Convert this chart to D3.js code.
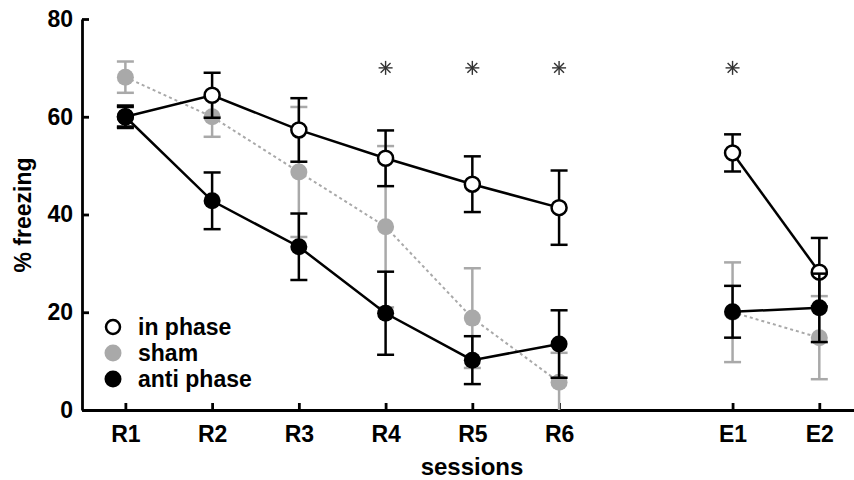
<!DOCTYPE html>
<html>
<head>
<meta charset="utf-8">
<script src="https://cdn.jsdelivr.net/npm/d3@7"></script>
<style>
  body { margin: 0; background: #fff; }
  text { font-family: "Liberation Sans", Arial, Helvetica, sans-serif; font-weight: bold; }
</style>
</head>
<body>
<div id="chart"></div>
<script>
// sessions (R = retrieval, E = extinction), gap between R6 and E1
const sessions = ["R1", "R2", "R3", "R4", "R5", "R6", "E1", "E2"];
const yTicks = [0, 20, 40, 60, 80];

// mean % freezing and s.e.m. per session
const inPhase    = [60.0, 64.4, 57.3, 51.5, 46.2, 41.4, 52.6, 28.2];
const inPhaseErr = [ 2.3,  4.6,  6.5,  5.7,  5.7,  7.6,  3.8,  7.0];
const sham       = [68.1, 60.0, 48.7, 37.5, 18.8,  5.7, 20.0, 14.8];
const shamErr    = [ 3.2,  4.1, 13.3, 16.5, 10.2,  6.0, 10.2,  8.5];
const antiPhase  = [60.0, 42.8, 33.4, 19.8, 10.2, 13.5, 20.1, 20.9];
const antiErr    = [ 2.0,  5.8,  6.8,  8.5,  4.9,  6.9,  5.3,  7.0];

// sessions marked significant
const sigSessions = ["R4", "R5", "R6", "E1"];
const sigLevel = 70;

const W = 854, H = 480;
const svg = d3.select("#chart").append("svg")
    .attr("width", W)
    .attr("height", H);

// slot index along x: leave one empty slot between R and E sessions
const slot = function(i){ return i < 6 ? i : i + 1; };

const x = d3.scaleLinear().domain([-0.5, 8.4]).range([82, 854]);
const y = d3.scaleLinear().domain([0, 80]).range([410, 19]);

// axes
const xAxis = svg.append("g")
    .attr("transform", "translate(0," + y(0) + ")")
    .call(d3.axisBottom(x)
      .tickValues(sessions.map(function(d, i){ return slot(i); }))
      .tickFormat(function(d){ return sessions[d < 6 ? d : d - 1]; })
      .tickSizeInner(-7)
      .tickSizeOuter(0)
      .tickPadding(16));

const yAxis = svg.append("g")
    .attr("transform", "translate(" + x(-0.5) + ",0)")
    .call(d3.axisLeft(y)
      .tickValues(yTicks)
      .tickSizeInner(-7)
      .tickSizeOuter(0)
      .tickPadding(9));

[xAxis, yAxis].forEach(function(a){
  a.selectAll("path, line").attr("stroke", "#000").attr("stroke-width", 2.8);
  a.selectAll("text").attr("fill", "#000").style("font-size", "23px")
    .style("font-family", "'Liberation Sans', Arial, sans-serif").style("font-weight", "bold");
});

svg.append("text")
    .attr("x", 472)
    .attr("y", 475)
    .attr("text-anchor", "middle")
    .style("font-size", "24px")
    .text("sessions");

svg.append("text")
    .attr("transform", "translate(31,215) rotate(-90)")
    .attr("text-anchor", "middle")
    .style("font-size", "23px")
    .text("% freezing");

// series, drawn back to front
const series = [
  {name: "sham",       values: sham,      err: shamErr,    color: "#a9a9a9", fill: "#a9a9a9", dash: "3,3", lw: 2},
  {name: "in phase",   values: inPhase,   err: inPhaseErr, color: "#000",    fill: "#fff",    dash: null,  lw: 2.5},
  {name: "anti phase", values: antiPhase, err: antiErr,    color: "#000",    fill: "#000",    dash: null,  lw: 2.5}
];
const legendOrder = ["in phase", "sham", "anti phase"];

const line = d3.line()
    .x(function(d){ return x(d.s); })
    .y(function(d){ return y(d.v); });

series.forEach(function(s){
  const pts = s.values.map(function(v, i){ return {s: slot(i), v: v, e: s.err[i]}; });
  const g = svg.append("g").attr("class", "series");

  // error bars
  const eb = g.selectAll(".eb").data(pts).enter().append("g").attr("class", "eb")
      .attr("stroke", s.color).attr("stroke-width", 2.5);
  eb.append("line")
      .attr("x1", function(d){ return x(d.s); })
      .attr("x2", function(d){ return x(d.s); })
      .attr("y1", function(d){ return y(Math.max(0, d.v - d.e)); })
      .attr("y2", function(d){ return y(d.v + d.e); });
  eb.append("line")
      .attr("x1", function(d){ return x(d.s) - 8.5; })
      .attr("x2", function(d){ return x(d.s) + 8.5; })
      .attr("y1", function(d){ return y(d.v + d.e); })
      .attr("y2", function(d){ return y(d.v + d.e); });
  eb.filter(function(d){ return d.v - d.e > 0; }).append("line")
      .attr("x1", function(d){ return x(d.s) - 8.5; })
      .attr("x2", function(d){ return x(d.s) + 8.5; })
      .attr("y1", function(d){ return y(d.v - d.e); })
      .attr("y2", function(d){ return y(d.v - d.e); });

  // connecting lines: retrieval block and extinction block
  [pts.slice(0, 6), pts.slice(6)].forEach(function(seg){
    g.append("path")
        .attr("d", line(seg))
        .attr("fill", "none")
        .attr("stroke", s.color)
        .attr("stroke-width", s.lw)
        .attr("stroke-dasharray", s.dash);
  });

  // markers
  g.selectAll(".dot").data(pts).enter().append("circle")
      .attr("class", "dot")
      .attr("cx", function(d){ return x(d.s); })
      .attr("cy", function(d){ return y(d.v); })
      .attr("r", s.fill === "#fff" ? 7.5 : 8.5)
      .attr("fill", s.fill)
      .attr("stroke", s.fill === "#fff" ? "#000" : "none")
      .attr("stroke-width", 2.5);
});

// significance asterisks
const star = svg.append("g").attr("stroke", "#333").attr("stroke-width", 1.4);
sigSessions.forEach(function(name){
  const cx = x(slot(sessions.indexOf(name))), cy = y(sigLevel), r = 7;
  for (let k = 0; k < 4; k++) {
    const a = k * Math.PI / 4;
    star.append("line")
        .attr("x1", cx - r * Math.cos(a)).attr("y1", cy - r * Math.sin(a))
        .attr("x2", cx + r * Math.cos(a)).attr("y2", cy + r * Math.sin(a));
  }
});

// legend
const legend = svg.append("g").attr("transform", "translate(113,327)");
legendOrder.forEach(function(name, i){
  const s = series.find(function(d){ return d.name === name; });
  legend.append("circle")
      .attr("cx", 0).attr("cy", i * 26)
      .attr("r", s.fill === "#fff" ? 7 : 8.5)
      .attr("fill", s.fill)
      .attr("stroke", s.fill === "#fff" ? "#000" : "none")
      .attr("stroke-width", 2.5);
  legend.append("text")
      .attr("x", 25).attr("y", i * 26 + 8)
      .style("font-size", "23px")
      .text(s.name);
});
</script>
</body>
</html>
